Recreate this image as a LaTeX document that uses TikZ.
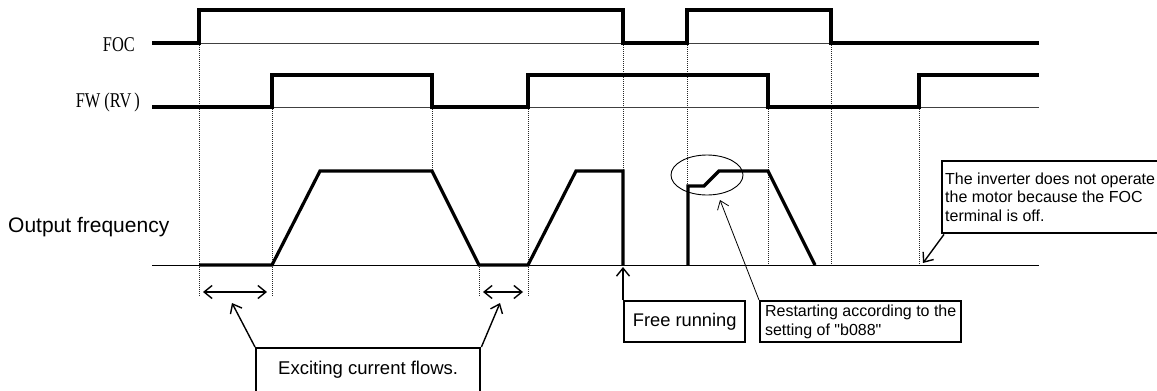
\documentclass[tikz,border=0pt]{standalone}
\usepackage{fontspec}
\setmainfont{Liberation Sans}
\newfontfamily\plainarial{Liberation Sans}
\newfontfamily\mincho[FakeStretch=0.78]{Liberation Serif}
\usetikzlibrary{arrows.meta,shapes.geometric}
\begin{document}
\begin{tikzpicture}[x=1pt,y=-1pt,
  sig/.style={line width=3.2pt, line join=miter},
  thinbase/.style={line width=1pt, black!75},
  guide/.style={line width=0.7pt, dash pattern=on 1pt off 1pt, black!85},
  cbox/.style={draw, line width=2.4pt, inner xsep=3pt, inner ysep=0pt, font=\fontsize{16}{18.5}\selectfont},
  barb/.style={-{Straight Barb[length=8pt,width=13pt]}, line width=1.4pt},
  dbarb/.style={{Straight Barb[length=8pt,width=13pt]}-{Straight Barb[length=8pt,width=13pt]}, line width=1.4pt},
  thinbarb/.style={-{Straight Barb[length=8pt,width=12pt]}, line width=0.8pt},
  siglabel/.style={font=\mincho\fontsize{21}{21}\selectfont, inner sep=0pt}]
\useasboundingbox (0,0) rectangle (1157,391);
\clip (0,0) rectangle (1157,391);

% labels
\node[siglabel, anchor=base east] (foc) at (135,51) {FOC};
\node[siglabel, anchor=base east] (fw) at (140,107) {FW\hspace{4pt}(RV\hspace{3pt})};
\node[font=\fontsize{21}{21}\selectfont, inner sep=0pt, anchor=base west] (of) at (8,232) {Output frequency};

% thin reference lines
\draw[thinbase] (199,43) -- (831,43);
\draw[thinbase] (272,107) -- (1039,107);
\draw[line width=1pt] (152,265) -- (1039,265);

% guide lines
\draw[guide] (199,43) -- (199,297);
\draw[guide] (272,107) -- (272,297);
\draw[guide] (432,107) -- (432,171);
\draw[guide] (479,265) -- (479,297);
\draw[guide] (528,107) -- (528,297);
\draw[guide] (623,43) -- (623,171);
\draw[guide] (687,43) -- (687,186);
\draw[guide] (768,107) -- (768,265);
\draw[guide] (831,43) -- (831,265);
\draw[guide] (919,107) -- (919,265);

% FOC signal
\draw[sig] (152,43) -- (199,43) -- (199,10) -- (623,10) -- (623,43) -- (687,43) -- (687,10) -- (831,10) -- (831,43) -- (1039,43);
% FW(RV) signal
\draw[sig] (152,107) -- (272,107) -- (272,75) -- (432,75) -- (432,107) -- (528,107) -- (528,75) -- (768,75) -- (768,107) -- (919,107) -- (919,75) -- (1039,75);
% output frequency
\draw[sig] (199,265) -- (272,265) -- (320,171) -- (432,171) -- (479,265) -- (528,265) -- (576,171) -- (623,171) -- (623,265);
\draw[sig] (688,265) -- (688,186) -- (704,186) -- (719,171) -- (768,171) -- (815,265);

% ellipse
\node[draw, ellipse, line width=0.9pt, minimum width=72pt, minimum height=40pt, inner sep=0pt] (circ) at (707,175) {};

% double arrows
\coordinate (d1a) at (203,292); \coordinate (d1b) at (267,292);
\coordinate (d2a) at (483,292); \coordinate (d2b) at (523,292);
\draw[dbarb] (d1a) -- (d1b);
\draw[dbarb] (d2a) -- (d2b);

% boxes
\node[cbox, anchor=north west, minimum width=224pt, text height=26pt, text depth=30pt, align=center, font=\fontsize{18.5}{20}\selectfont] (exc) at (255,347) {Exciting current flows.};
\node[cbox, anchor=north west, minimum width=121pt, minimum height=41pt, font=\fontsize{18.3}{20}\selectfont] (free) at (623,300) {Free running};
\node[cbox, anchor=north west, minimum width=201pt, minimum height=41pt, align=left] (rest) at (759,300) {Restarting according to the\\setting of {\plainarial"b088"}};
\node[cbox, anchor=north west, minimum width=214pt, minimum height=72pt, align=left] (inv) at (941,160) {The inverter does not operate\\the motor because the FOC\\terminal is off.};

% callout arrows
\coordinate (e1) at (232,303);
\coordinate (e2) at (500,303);
\coordinate (fr) at (623,267);
\coordinate (rs) at (720,200);
\coordinate (iv) at (923,263);
\draw[barb] (exc.north west) -- (e1);
\draw[barb] (exc.north east) -- (e2);
\draw[barb] (free.north west) -- (fr);
\draw[thinbarb] (rest.north west) -- (rs);
\draw[barb] ([xshift=3pt]inv.south west) -- (iv);
\end{tikzpicture}
\end{document}
